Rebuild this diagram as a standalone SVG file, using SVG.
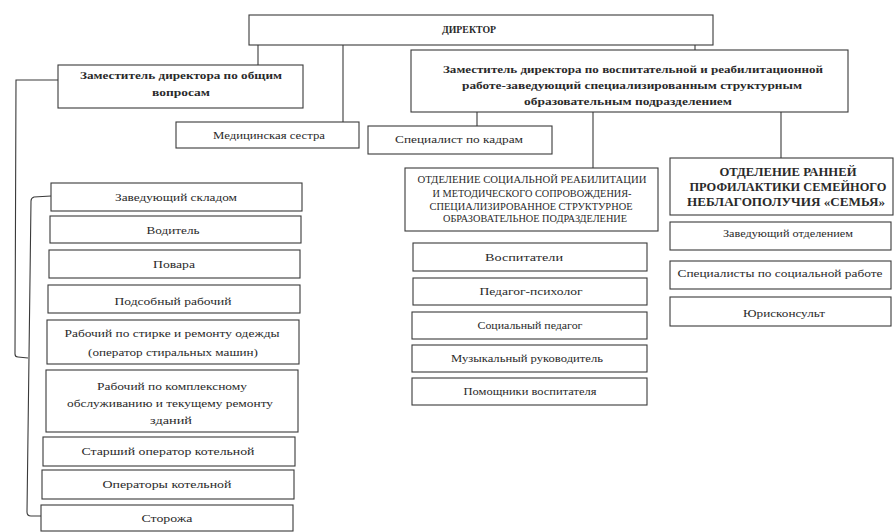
<svg xmlns="http://www.w3.org/2000/svg" width="895" height="532" viewBox="0 0 895 532" font-family="'Liberation Serif', 'DejaVu Serif', serif">
<style>
.b{fill:#fff;stroke:#3a3a3a;stroke-width:1.1}
.c{fill:none;stroke:#3a3a3a;stroke-width:1.1}
text{fill:#2a2a2a;text-anchor:middle}
.r{font-size:11px}
.h{font-size:10.5px;font-weight:bold}
.u{font-size:9.5px}
.hb{font-size:11.5px;font-weight:bold}
</style>
<rect width="895" height="532" fill="#fff"/>
<g id="connectors">
<path class="c" d="M258,44 V65"/>
<path class="c" d="M343,45 V122"/>
<path class="c" d="M695,45 V50"/>
<path class="c" d="M477,112 V126"/>
<path class="c" d="M593,112 V168"/>
<path class="c" d="M781,112 V158"/>
<path class="c" d="M58,80 L16,80 L15,354 Q15,357 18,357 L28,358"/>
<path class="c" d="M51,196 L34,197 Q31,198 31,201 L27,512 Q27,516 31,516 L41,516"/>
</g>
<g id="director"><rect class="b" x="249" y="15" width="464" height="30"/><text class="h" x="469" y="33" textLength="54" lengthAdjust="spacingAndGlyphs">ДИРЕКТОР</text></g>
<g id="deputy-general"><rect class="b" x="58" y="65" width="245" height="43"/>
<text class="h" x="181" y="79" textLength="202" lengthAdjust="spacingAndGlyphs">Заместитель директора по общим</text>
<text class="h" x="181" y="96" textLength="58" lengthAdjust="spacingAndGlyphs">вопросам</text></g>
<g id="deputy-edu"><rect class="b" x="411" y="50" width="437" height="62"/>
<text class="h" x="633" y="73" textLength="380" lengthAdjust="spacingAndGlyphs">Заместитель директора по воспитательной и реабилитационной</text>
<text class="h" x="632" y="89" textLength="340" lengthAdjust="spacingAndGlyphs">работе-заведующий специализированным структурным</text>
<text class="h" x="628" y="105" textLength="208" lengthAdjust="spacingAndGlyphs">образовательным подразделением</text></g>
<g id="nurse"><rect class="b" x="176" y="122" width="183" height="26"/><text class="r" x="269" y="139" textLength="112" lengthAdjust="spacingAndGlyphs">Медицинская сестра</text></g>
<g id="hr"><rect class="b" x="368" y="126" width="184" height="28"/><text class="r" x="459" y="143" textLength="128" lengthAdjust="spacingAndGlyphs">Специалист по кадрам</text></g>
<g id="dept-rehab"><rect class="b" x="405" y="168" width="253" height="63"/>
<text class="u" x="532" y="183" textLength="229" lengthAdjust="spacingAndGlyphs">ОТДЕЛЕНИЕ СОЦИАЛЬНОЙ РЕАБИЛИТАЦИИ</text>
<text class="u" x="532" y="197" textLength="199" lengthAdjust="spacingAndGlyphs">И МЕТОДИЧЕСКОГО СОПРОВОЖДЕНИЯ-</text>
<text class="u" x="531" y="210" textLength="203" lengthAdjust="spacingAndGlyphs">СПЕЦИАЛИЗИРОВАННОЕ СТРУКТУРНОЕ</text>
<text class="u" x="535" y="222" textLength="184" lengthAdjust="spacingAndGlyphs">ОБРАЗОВАТЕЛЬНОЕ ПОДРАЗДЕЛЕНИЕ</text></g>
<g id="dept-family"><rect class="b" x="670" y="158" width="223" height="57"/>
<text class="hb" x="788" y="176" textLength="137" lengthAdjust="spacingAndGlyphs">ОТДЕЛЕНИЕ РАННЕЙ</text>
<text class="hb" x="788" y="191" textLength="197" lengthAdjust="spacingAndGlyphs">ПРОФИЛАКТИКИ СЕМЕЙНОГО</text>
<text class="hb" x="786" y="206" textLength="198" lengthAdjust="spacingAndGlyphs">НЕБЛАГОПОЛУЧИЯ «СЕМЬЯ»</text></g>
<g id="storekeeper"><rect class="b" x="51" y="183" width="251" height="28"/><text class="r" x="176" y="201" textLength="122" lengthAdjust="spacingAndGlyphs">Заведующий складом</text></g>
<g id="driver"><rect class="b" x="50" y="216" width="251" height="27"/><text class="r" x="173" y="234" textLength="53" lengthAdjust="spacingAndGlyphs">Водитель</text></g>
<g id="cooks"><rect class="b" x="49" y="250" width="251" height="28"/><text class="r" x="174" y="268" textLength="42" lengthAdjust="spacingAndGlyphs">Повара</text></g>
<g id="helper"><rect class="b" x="48" y="285" width="252" height="28"/><text class="r" x="173" y="305" textLength="117" lengthAdjust="spacingAndGlyphs">Подсобный рабочий</text></g>
<g id="laundry"><rect class="b" x="47" y="320" width="252" height="44"/>
<text class="r" x="172" y="337" textLength="215" lengthAdjust="spacingAndGlyphs">Рабочий по стирке и ремонту одежды</text>
<text class="r" x="173" y="356" textLength="170" lengthAdjust="spacingAndGlyphs">(оператор стиральных машин)</text></g>
<g id="maintenance"><rect class="b" x="46" y="370" width="252" height="62"/>
<text class="r" x="172" y="390" textLength="150" lengthAdjust="spacingAndGlyphs">Рабочий по комплексному</text>
<text class="r" x="170" y="407" textLength="206" lengthAdjust="spacingAndGlyphs">обслуживанию и текущему ремонту</text>
<text class="r" x="171" y="424" textLength="42" lengthAdjust="spacingAndGlyphs">зданий</text></g>
<g id="senior-boiler"><rect class="b" x="43" y="437" width="252" height="29"/><text class="r" x="168" y="455" textLength="173" lengthAdjust="spacingAndGlyphs">Старший оператор  котельной</text></g>
<g id="boiler"><rect class="b" x="42" y="470" width="252" height="29"/><text class="r" x="167" y="488" textLength="129" lengthAdjust="spacingAndGlyphs">Операторы  котельной</text></g>
<g id="guards"><rect class="b" x="41" y="505" width="252" height="26"/><text class="r" x="167" y="522" textLength="51" lengthAdjust="spacingAndGlyphs">Сторожа</text></g>
<g id="educators"><rect class="b" x="413" y="243" width="234" height="28"/><text class="r" x="524" y="261" textLength="78" lengthAdjust="spacingAndGlyphs">Воспитатели</text></g>
<g id="psychologist"><rect class="b" x="413" y="278" width="234" height="27"/><text class="r" x="531" y="295" textLength="103" lengthAdjust="spacingAndGlyphs">Педагог-психолог</text></g>
<g id="social-teacher"><rect class="b" x="412" y="312" width="235" height="27"/><text class="r" x="530" y="329" textLength="105" lengthAdjust="spacingAndGlyphs">Социальный педагог</text></g>
<g id="music"><rect class="b" x="412" y="345" width="235" height="27"/><text class="r" x="527" y="362" textLength="152" lengthAdjust="spacingAndGlyphs">Музыкальный руководитель</text></g>
<g id="assistants"><rect class="b" x="412" y="378" width="235" height="27"/><text class="r" x="530" y="395" textLength="133" lengthAdjust="spacingAndGlyphs">Помощники воспитателя</text></g>
<g id="head-dept"><rect class="b" x="670" y="222" width="221" height="28"/><text class="r" x="788" y="237" textLength="130" lengthAdjust="spacingAndGlyphs">Заведующий отделением</text></g>
<g id="social-workers"><rect class="b" x="670" y="261" width="221" height="28"/><text class="r" x="780" y="277" textLength="205" lengthAdjust="spacingAndGlyphs">Специалисты по социальной работе</text></g>
<g id="lawyer"><rect class="b" x="670" y="297" width="221" height="29"/><text class="r" x="784" y="317" textLength="82" lengthAdjust="spacingAndGlyphs">Юрисконсульт</text></g>
</svg>
